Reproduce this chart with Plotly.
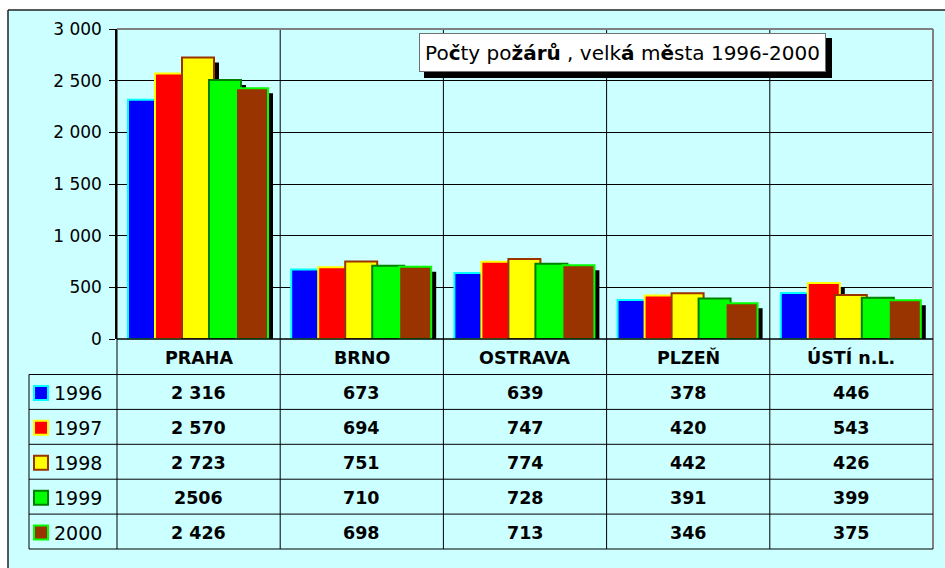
import plotly.graph_objects as go

# ---------------- data ----------------
cities = ["PRAHA", "BRNO", "OSTRAVA", "PLZEŇ", "ÚSTÍ n.L."]
years = ["1996", "1997", "1998", "1999", "2000"]
v1996 = [2316, 673, 639, 378, 446]
v1997 = [2570, 694, 747, 420, 543]
v1998 = [2723, 751, 774, 442, 426]
v1999 = [2506, 710, 728, 391, 399]
v2000 = [2426, 698, 713, 346, 375]
series = [v1996, v1997, v1998, v1999, v2000]
# table cell printed without the thousands space in the source
raw_cells = {("1999", "PRAHA"): "2506"}
y_tick_values = [0, 500, 1000, 1500, 2000, 2500, 3000]
title_html = "Po<b>č</b>ty po<b>žárů</b> , velk<b>á</b> m<b>ě</b>sta 1996-2000"

# ---------------- style ----------------
fill_colors = ["#0000FF", "#FF0000", "#FFFF00", "#00FF00", "#993300"]
border_colors = ["#00FFFF", "#FFFF00", "#993300", "#008000", "#00FF00"]
BG = "#CCFFFF"
FONT = "DejaVu Sans"

W, H = 945, 568
PLOT_L, PLOT_T, PLOT_R, PLOT_B = 117, 29, 933, 339
L, T = PLOT_L, PLOT_T
R = W - PLOT_R
B = H - PLOT_B
PW, PH = W - L - R, H - T - B
CAT_W = PW / len(cities)


def px(x):
    return (x - PLOT_L) / PW


def py(y):
    return (PLOT_B - y) / PH


def fmt(v):
    return f"{v:,}".replace(",", " ")


BAR_W = 32
PITCH = 27
FIRST = 11
SH = 5  # shadow offset, px
sh_val = SH * 3000 / PH

fig = go.Figure()
for i, (yr, vals) in enumerate(zip(years, series)):
    off = (FIRST + PITCH * i) / CAT_W - 0.5
    fig.add_trace(go.Bar(
        x=cities, y=[v - sh_val for v in vals],
        offset=off + SH / CAT_W, width=BAR_W / CAT_W,
        marker=dict(color="black", line=dict(width=0)),
        showlegend=False, hoverinfo="skip"))
    fig.add_trace(go.Bar(
        x=cities, y=vals, name=yr,
        offset=off, width=BAR_W / CAT_W,
        marker=dict(color=fill_colors[i], line=dict(color=border_colors[i], width=2)),
        showlegend=False))

shapes = []
# outer frame: cyan fill + left and top edges
shapes.append(dict(type="rect", xref="paper", yref="paper", layer="below",
                   x0=px(8), x1=px(960), y0=py(10), y1=py(590),
                   fillcolor=BG, line=dict(width=0)))
shapes.append(dict(type="line", xref="paper", yref="paper", layer="below",
                   x0=px(8), x1=px(8), y0=py(10), y1=py(590),
                   line=dict(color="#222", width=1.5)))
shapes.append(dict(type="line", xref="paper", yref="paper", layer="below",
                   x0=px(8), x1=px(960), y0=py(10), y1=py(10),
                   line=dict(color="#222", width=1.5)))

HDR_BOT = 374.5
ROW_H = 34.9
TAB_BOT = HDR_BOT + ROW_H * len(years)
TAB_LEFT = 29

# vertical lines (grid + table)
for k in range(len(cities) + 1):
    xp = k / len(cities)
    last = k == len(cities)
    shapes.append(dict(type="line", xref="paper", yref="paper", layer="above",
                       x0=xp, x1=xp, y0=1, y1=py(TAB_BOT),
                       line=dict(color="#808080" if last else "black", width=2 if last else 1)))
# plot-area top border
shapes.append(dict(type="line", xref="paper", yref="paper",
                   x0=0, x1=1, y0=1, y1=1, line=dict(color="#808080", width=2)))
# axis bottom line
shapes.append(dict(type="line", xref="paper", yref="paper",
                   x0=0, x1=1, y0=0, y1=0, line=dict(color="black", width=1.5)))
# table horizontal lines
for r in range(len(years) + 1):
    yy = py(HDR_BOT + ROW_H * r)
    shapes.append(dict(type="line", xref="paper", yref="paper",
                       x0=px(TAB_LEFT), x1=1, y0=yy, y1=yy,
                       line=dict(color="black", width=1)))
shapes.append(dict(type="line", xref="paper", yref="paper",
                   x0=px(TAB_LEFT), x1=px(TAB_LEFT), y0=py(HDR_BOT), y1=py(TAB_BOT),
                   line=dict(color="black", width=1)))
# legend keys
for i in range(len(years)):
    cy = HDR_BOT + ROW_H * (i + 0.5) + 1
    shapes.append(dict(type="rect", xref="paper", yref="paper",
                       x0=px(34), x1=px(48), y0=py(cy - 7), y1=py(cy + 7),
                       fillcolor=fill_colors[i],
                       line=dict(color=border_colors[i], width=2)))
# title shadow
shapes.append(dict(type="rect", xref="paper", yref="paper",
                   x0=px(424), x1=px(832), y0=py(38), y1=py(78),
                   fillcolor="black", line=dict(width=0)))

annotations = []
hdr_cy = (PLOT_B + HDR_BOT) / 2 + 1
for c in cities:
    annotations.append(dict(x=c, xref="x", y=py(hdr_cy), yref="paper",
                            text=f"<b>{c}</b>", showarrow=False,
                            font=dict(family=FONT, size=17.5, color="black"),
                            xanchor="center", yanchor="middle"))
for i, (yr, vals) in enumerate(zip(years, series)):
    cy = HDR_BOT + ROW_H * (i + 0.5) + 1
    annotations.append(dict(x=px(52), xref="paper", y=py(cy), yref="paper",
                            text=yr, showarrow=False,
                            font=dict(family=FONT, size=19, color="black"),
                            xanchor="left", yanchor="middle"))
    for c, v in zip(cities, vals):
        txt = raw_cells.get((yr, c), fmt(v))
        annotations.append(dict(x=c, xref="x", y=py(cy), yref="paper",
                                text=f"<b>{txt}</b>", showarrow=False,
                                font=dict(family=FONT, size=17.5, color="black"),
                                xanchor="center", yanchor="middle"))
# title box
annotations.append(dict(x=px(622.5), xref="paper", y=py(52.5), yref="paper",
                        text=title_html, showarrow=False,
                        font=dict(family=FONT, size=20, color="black"),
                        xanchor="center", yanchor="middle",
                        width=405, height=37, borderpad=0,
                        bgcolor="white", bordercolor="#707070", borderwidth=1))

fig.update_layout(
    width=W, height=H,
    margin=dict(l=L, r=R, t=T, b=B, autoexpand=False),
    paper_bgcolor="white", plot_bgcolor="white",
    barmode="overlay",
    separators=". ",
    font=dict(family=FONT, size=17, color="black"),
    shapes=shapes, annotations=annotations,
    xaxis=dict(range=[-0.5, len(cities) - 0.5], showticklabels=False, showgrid=False,
               zeroline=False, showline=False, ticks="", fixedrange=True),
    yaxis=dict(range=[0, 3000], tickvals=y_tick_values, separatethousands=True,
               showgrid=True, gridcolor="black", gridwidth=1,
               zeroline=False, showline=True, linecolor="black", linewidth=1.5,
               ticks="outside", ticklen=6, tickcolor="black",
               tickfont=dict(family=FONT, size=17, color="black"),
               ticklabelstandoff=4, fixedrange=True),
)

fig.write_html("out.html", config={"displayModeBar": False},
               post_script="document.body.style.margin='0';document.body.style.overflow='hidden';")
